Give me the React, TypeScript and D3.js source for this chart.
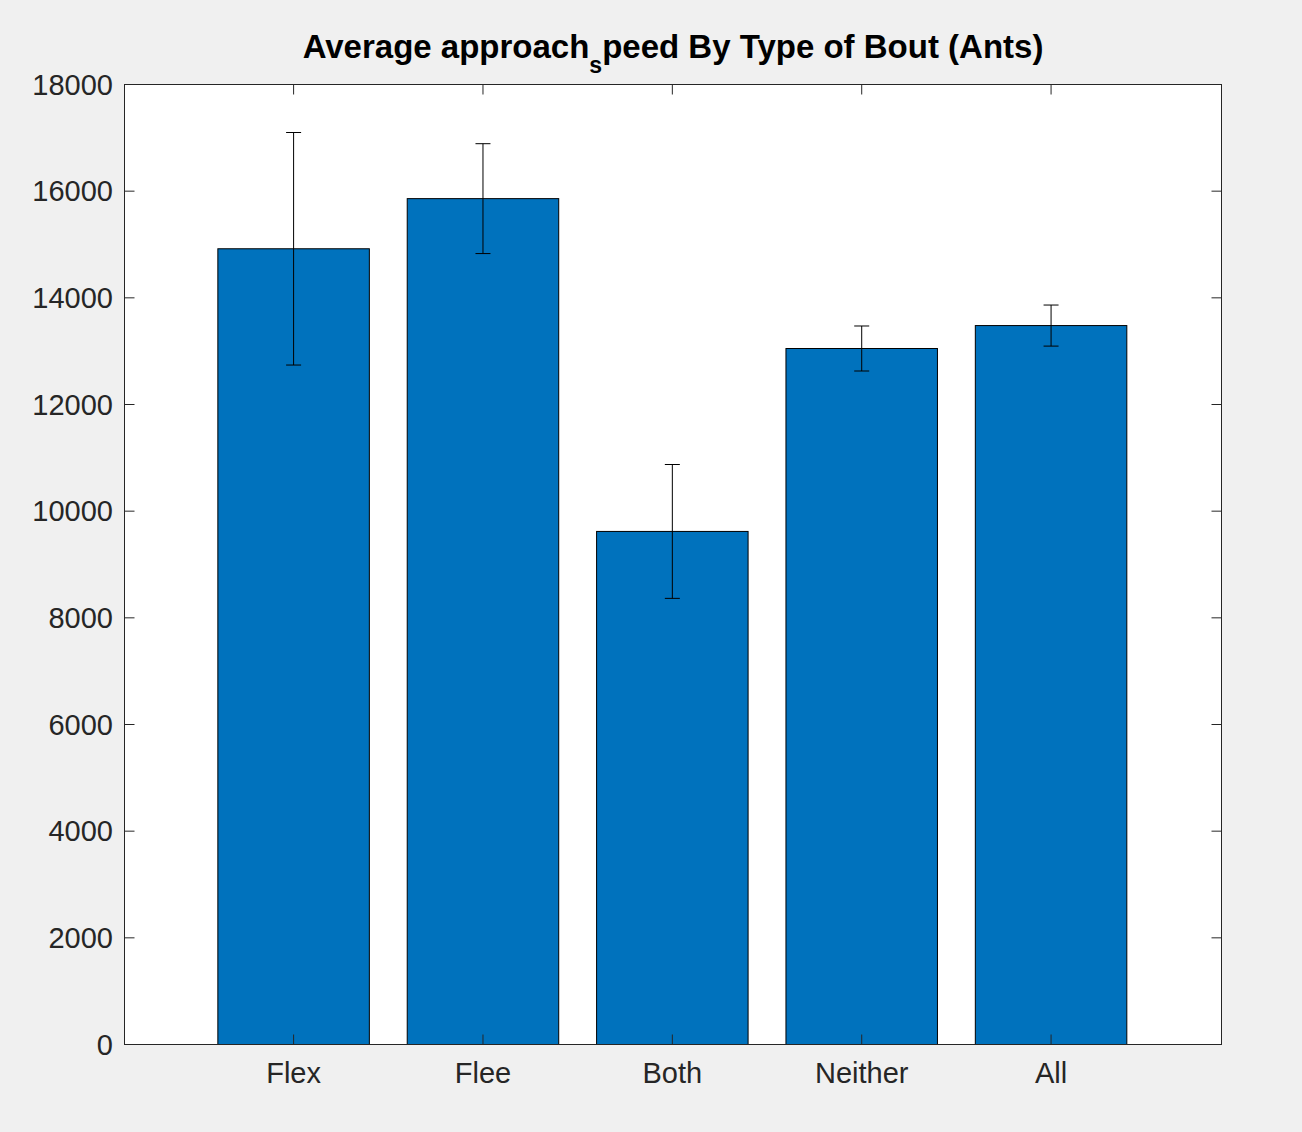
import React from "react";
import * as d3 from "d3";

const categories = ["Flex", "Flee", "Both", "Neither", "All"];
const means = [14920, 15860, 9620, 13050, 13480];
const errors = [2180, 1030, 1255, 422, 385];
const yTicks = [0, 2000, 4000, 6000, 8000, 10000, 12000, 14000, 16000, 18000];

const W = 1302;
const H = 1132;
const left = 124.5;
const right = 1221.5;
const top = 84.5;
const bottom = 1044.5;

export default function App() {
  const y = d3.scaleLinear().domain([0, 18000]).range([bottom, top]);
  const x = d3.scaleLinear().domain([0.107, 5.9]).range([left, right]);
  const barW = x(0.8) - x(0);
  const capHalf = 7.5;
  const axisColor = "#262626";
  const font = "'Liberation Sans', Arial, Helvetica, sans-serif";

  return (
    <svg
      width={W}
      height={H}
      style={{ position: "absolute", left: 0, top: 0, background: "#f0f0f0" }}
    >
      <rect x={0} y={0} width={W} height={H} fill="#f0f0f0" />
      <rect x={left} y={top} width={right - left} height={bottom - top} fill="#ffffff" />
      {means.map((m, i) => (
        <rect
          key={"b" + i}
          x={x(i + 1) - barW / 2}
          y={y(m)}
          width={barW}
          height={y(0) - y(m)}
          fill="#0072BD"
          stroke="#000"
          strokeWidth={1}
        />
      ))}
      {yTicks.map((t) => (
        <g key={"yt" + t}>
          <line x1={left} x2={left + 10} y1={y(t)} y2={y(t)} stroke={axisColor} />
          <line x1={right} x2={right - 10} y1={y(t)} y2={y(t)} stroke={axisColor} />
          <text
            x={left - 11.5}
            y={y(t)}
            dy="0.35em"
            textAnchor="end"
            fontFamily={font}
            fontSize={29}
            fill={axisColor}
          >
            {t}
          </text>
        </g>
      ))}
      {categories.map((c, i) => (
        <g key={"xt" + i}>
          <line x1={x(i + 1)} x2={x(i + 1)} y1={bottom} y2={bottom - 10} stroke={axisColor} />
          <line x1={x(i + 1)} x2={x(i + 1)} y1={top} y2={top + 10} stroke={axisColor} />
          <text
            x={x(i + 1)}
            y={1082.5}
            textAnchor="middle"
            fontFamily={font}
            fontSize={29}
            fill={axisColor}
          >
            {c}
          </text>
        </g>
      ))}
      {means.map((m, i) => {
        const cx = x(i + 1);
        const y1 = y(m + errors[i]);
        const y2 = y(m - errors[i]);
        return (
          <g key={"e" + i} stroke="#000" strokeWidth={1}>
            <line x1={cx} x2={cx} y1={y1} y2={y2} />
            <line x1={cx - capHalf} x2={cx + capHalf} y1={y1} y2={y1} />
            <line x1={cx - capHalf} x2={cx + capHalf} y1={y2} y2={y2} />
          </g>
        );
      })}
      <rect
        x={left}
        y={top}
        width={right - left}
        height={bottom - top}
        fill="none"
        stroke={axisColor}
        strokeWidth={1}
      />
      <text
        x={(left + right) / 2}
        y={58}
        textAnchor="middle"
        fontFamily={font}
        fontWeight="bold"
        fontSize={33}
        fill="#000"
      >
        Average approach
        <tspan dy={15} fontSize={23}>s</tspan>
        <tspan dy={-15}>peed By Type of Bout (Ants)</tspan>
      </text>
    </svg>
  );
}
